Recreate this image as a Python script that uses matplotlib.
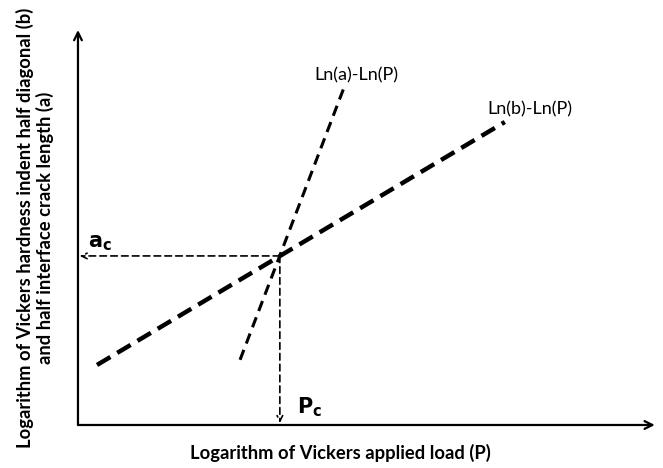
import matplotlib
matplotlib.use("Agg")
from matplotlib import pyplot as plt

plt.rcParams['font.family'] = ['Lato', 'DejaVu Sans']

# schematic log-log data (arbitrary units, axes span 0..10)
lnP_b = [0.33, 7.4]
lnb = [1.52, 7.67]
lnP_a = [2.81, 4.63]
lna = [1.65, 8.61]
Pc = 3.5
ac = 4.28

fig = plt.figure(figsize=(6.63, 4.68), dpi=100)
ax = fig.add_axes([0.1176, 0.0919, 0.870, 0.844])
ax.set_xlim(0, 10)
ax.set_ylim(0, 10)
for s in ax.spines.values():
    s.set_visible(False)
ax.set_xticks([])
ax.set_yticks([])

# axis arrows
ax.annotate('', xy=(1.0, 0), xytext=(0, 0), xycoords='axes fraction',
            arrowprops=dict(arrowstyle='->', lw=1.6, color='black', mutation_scale=14,
                            shrinkA=0, shrinkB=0))
ax.annotate('', xy=(0, 1.0), xytext=(0, 0), xycoords='axes fraction',
            arrowprops=dict(arrowstyle='->', lw=1.6, color='black', mutation_scale=14,
                            shrinkA=0, shrinkB=0))

ax.plot(lnP_b, lnb, color='black', lw=3.2, linestyle=(0, (3.5, 1.8)))
ax.plot(lnP_a, lna, color='black', lw=2.2, linestyle=(0, (3.5, 2.2)))

# critical point projections
ax.annotate('', xy=(0.03, ac), xytext=(Pc, ac),
            arrowprops=dict(arrowstyle='->', lw=1.2, color='black', linestyle=(0, (4, 2.5)),
                            shrinkA=0, shrinkB=0))
ax.annotate('', xy=(Pc, 0.05), xytext=(Pc, ac),
            arrowprops=dict(arrowstyle='->', lw=1.2, color='black', linestyle=(0, (4, 2.5)),
                            shrinkA=0, shrinkB=0))

ax.text(0.17, ac + 0.22, r'$\mathbf{a_c}$', fontsize=15, ha='left', va='baseline')
ax.text(Pc + 0.3, 0.3, r'$\mathbf{P_c}$', fontsize=15, ha='left', va='baseline')

ax.text(4.82, 8.86, 'Ln(a)-Ln(P)', fontsize=13, ha='center', va='center')
ax.text(7.83, 8.0, 'Ln(b)-Ln(P)', fontsize=13, ha='center', va='center')

fig.text(0.513, 0.032, 'Logarithm of Vickers applied load (P)', fontsize=13.2,
         fontweight='bold', ha='center', va='center')
fig.text(0.053, 0.513, 'Logarithm of Vickers hardness indent half diagonal (b)\nand half interface crack length (a)',
         fontsize=13.2, fontweight='bold', ha='center', va='center', rotation=90,
         linespacing=1.15)

fig.savefig('out.png', dpi=100)
